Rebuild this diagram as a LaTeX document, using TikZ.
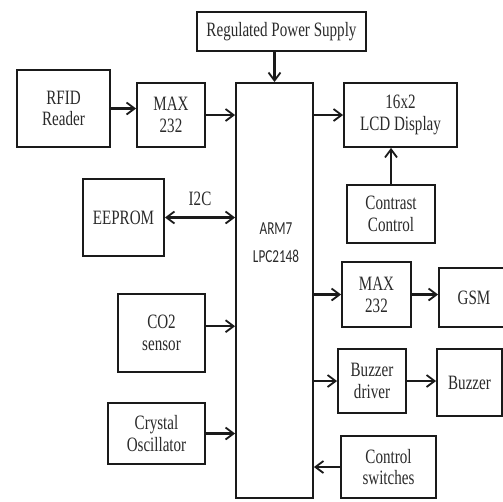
\documentclass[tikz,border=0pt]{standalone}
\usepackage{fontspec}
\setmainfont{Liberation Serif}[FakeStretch=0.74]
\newfontfamily\armfont{Carlito}[FakeStretch=0.72]
\usepackage{tikz}
\usetikzlibrary{arrows.meta,calc,positioning}
\definecolor{boxline}{HTML}{1A1A1A}
\definecolor{boxtext}{HTML}{2A2A2A}
\tikzset{
  blk/.style={draw=boxline,line width=1.3pt,inner sep=0pt,align=center,
    text=boxtext,font=\fontsize{14.5}{15.5}\selectfont},
  link/.style={-{Straight Barb[length=2mm,width=3mm,line width=1.3pt]},
    line width=1.6pt,boxline},
  bilink/.style={{Straight Barb[length=2mm,width=3mm,line width=1.3pt]}-{Straight Barb[length=2mm,width=3mm,line width=1.3pt]},
    line width=1.6pt,boxline}
}

\begin{document}
\begin{tikzpicture}[x=0.025cm,y=-0.025cm]
    \useasboundingbox (0,0) rectangle (503,501);
    % controller in the middle
    \node[blk,minimum width=1.925cm,minimum height=10.375cm] (arm) at (274.5,290.5) {};
    \node[boxtext,font=\armfont\fontsize{13}{20}\selectfont,align=center] (armtxt) at (276,243) {ARM7\\LPC2148};
    % top row
    \node[blk,minimum width=4.225cm,minimum height=0.975cm] (psu) at (281.5,31.5) {Regulated Power Supply};
    \node[blk,minimum width=2.325cm,minimum height=1.925cm] (rfid) at (63.5,108.5) {RFID\\Reader};
    \node[blk,minimum width=1.7cm,minimum height=1.6cm] (maxa) at (171,115) {MAX\\232};
    \node[blk,minimum width=2.825cm,minimum height=1.6cm] (lcd) at (400.5,115) {16x2\\LCD Display};
    \node[blk,minimum width=2.2cm,minimum height=1.45cm] (contrast) at (391,214) {Contrast\\Control};
    % left side
    \node[blk,minimum width=2.025cm,minimum height=1.925cm] (eeprom) at (123.5,217.5) {EEPROM};
    \node[blk,minimum width=2.175cm,minimum height=1.95cm] (co2) at (161.5,333) {CO2\\sensor};
    \node[blk,minimum width=2.425cm,minimum height=1.525cm] (xtal) at (156.5,433.5) {Crystal\\Oscillator};
    % right side
    \node[blk,minimum width=1.725cm,minimum height=1.625cm] (maxb) at (376.5,294.5) {MAX\\232};
    \node[blk,minimum width=1.75cm,minimum height=1.475cm] (gsm) at (474,297.5) {GSM};
    \node[blk,minimum width=1.7cm,minimum height=1.6cm] (bdrv) at (372,381) {Buzzer\\driver};
    \node[blk,minimum width=1.625cm,minimum height=1.675cm] (buzzer) at (469.5,382.5) {Buzzer};
    \node[blk,minimum width=2.375cm,minimum height=1.55cm] (sw) at (388.5,467) {Control\\switches};
    % connections
    \draw[link] (psu.south -| arm.north) -- (arm.north);
    \draw[link] (rfid.east) -- (rfid.east -| maxa.west);
    \draw[link] (maxa.east) -- (maxa.east -| arm.west);
    \draw[link] (lcd.west -| arm.east) -- (lcd.west);
    \draw[link] (contrast.north) -- (contrast.north |- lcd.south);
    \draw[bilink] (eeprom.east) -- (eeprom.east -| arm.west)
      node[midway,above=4pt,text=boxtext,font=\fontsize{14.5}{15.5}\selectfont] (i2c) {I2C};
    \draw[link] ([yshift=0.17cm]co2.east) -- ([yshift=0.17cm]co2.east -| arm.west);
    \draw[link] (xtal.east) -- (xtal.east -| arm.west);
    \draw[link] (maxb.west -| arm.east) -- (maxb.west);
    \draw[link] (maxb.east) -- (maxb.east -| gsm.west);
    \draw[link] (bdrv.west -| arm.east) -- (bdrv.west);
    \draw[link] (bdrv.east) -- (bdrv.east -| buzzer.west);
    \draw[link] (sw.west) -- (sw.west -| arm.east);
\end{tikzpicture}
\end{document}
